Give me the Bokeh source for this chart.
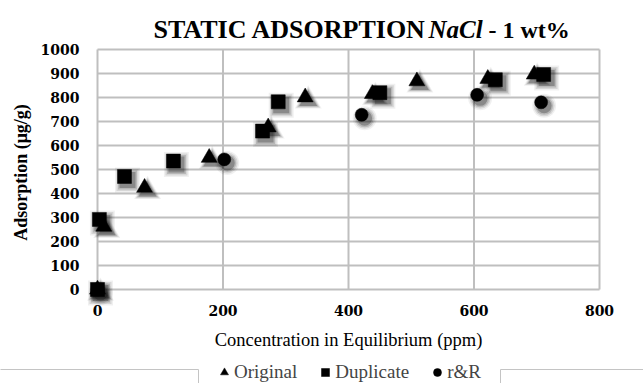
import math
from bokeh.plotting import figure
from bokeh.models import Range1d, Legend, LegendItem
from bokeh.core.properties import value
from bokeh.embed import file_html
from bokeh.resources import INLINE

# ---- data ----
orig_x = [0, 10, 75, 178, 272, 331, 438, 509, 622, 696]
orig_y = [0, 262, 424, 549, 676, 801, 815, 868, 878, 896]
dup_x = [0, 3, 43, 121, 263, 288, 450, 634, 711]
dup_y = [0, 292, 471, 535, 660, 782, 820, 874, 896]
rr_x = [0, 202, 421, 605, 707]
rr_y = [0, 542, 728, 811, 780]
x_ticks = [0, 200, 400, 600, 800]
y_ticks = [0, 100, 200, 300, 400, 500, 600, 700, 800, 900, 1000]
series_names = ["Original", "Duplicate", "r&R"]
x_title = "Concentration in Equilibrium (ppm)"
y_title = "Adsorption (μg/g)"
title_parts = ["STATIC ADSORPTION", "NaCl", "- 1 wt%"]

GRID = "#BFBFBF"
W, H = 643, 383
# plot area in canvas pixels: data x 0..800 -> 97..599, data y 0..1000 -> 289..49 (from top)
left_px, right_px, top_px, bottom_px = 97, 599, 49, 289
xs_per_px = (x_ticks[-1] - x_ticks[0]) / (right_px - left_px)
ys_per_px = (y_ticks[-1] - y_ticks[0]) / (bottom_px - top_px)
x_range = Range1d(x_ticks[0] - left_px * xs_per_px, x_ticks[-1] + (W - right_px) * xs_per_px)
y_range = Range1d(y_ticks[0] - (H - bottom_px) * ys_per_px, y_ticks[-1] + top_px * ys_per_px)

def px_x(px):
    return x_range.start + px * xs_per_px

def px_y(py):
    return y_range.end - py * ys_per_px

p = figure(width=W, height=H, output_backend="svg", toolbar_location=None,
           x_range=x_range, y_range=y_range, min_border=0,
           x_axis_location=None, y_axis_location=None)
p.grid.visible = False
p.outline_line_color = None
p.background_fill_color = "white"
p.border_fill_color = "white"

# grid lines from the tick arrays
p.segment(x0=x_ticks, y0=[y_ticks[0]] * len(x_ticks), x1=x_ticks,
          y1=[y_ticks[-1]] * len(x_ticks), line_color=GRID, line_width=2)
p.segment(x0=[x_ticks[0]] * len(y_ticks), y0=y_ticks,
          x1=[x_ticks[-1]] * len(y_ticks), y1=y_ticks, line_color=GRID, line_width=2)

# tick labels
p.text(x=x_ticks, y=[y_ticks[0]] * len(x_ticks), text=[str(t) for t in x_ticks],
       y_offset=21, text_align="center", text_baseline="middle",
       text_font=value("DejaVu Serif"), text_font_style="bold",
       text_font_size="14px", text_color="black")
p.text(x=[x_ticks[0]] * len(y_ticks), y=y_ticks, text=[str(t) for t in y_ticks],
       x_offset=-18, text_align="right", text_baseline="middle",
       text_font=value("DejaVu Serif"), text_font_style="bold",
       text_font_size="14px", text_color="black")

# axis titles
p.text(x=[(x_ticks[0] + x_ticks[-1]) / 2], y=[y_ticks[0]], text=[x_title],
       y_offset=50, text_align="center", text_baseline="middle",
       text_font=value("Liberation Serif"), text_font_size="18.5px", text_color="black")
p.text(x=[x_ticks[0]], y=[(y_ticks[0] + y_ticks[-1]) / 2], text=[y_title],
       x_offset=-77, y_offset=3, angle=math.pi / 2, text_align="center",
       text_baseline="middle", text_font=value("Liberation Serif"),
       text_font_style="bold", text_font_size="18px", text_color="black")

# chart title in three styled pieces
for txt, style, off, size in [(title_parts[0], "bold", 56, "26px"),
                              (title_parts[1], "bold italic", 331, "25px"),
                              (title_parts[2], "bold", 391, "24px")]:
    p.text(x=[x_ticks[0]], y=[y_ticks[-1]], text=[txt], x_offset=off, y_offset=-20,
           text_align="left", text_baseline="alphabetic",
           text_font=value("Liberation Serif"), text_font_style=style,
           text_font_size=size, text_color="black")

# faint frame lines flanking the legend (decoration of the original)
p.multi_line(xs=[[px_x(-5), px_x(198), px_x(198)], [px_x(500), px_x(500), px_x(650)]],
             ys=[[px_y(369), px_y(369), px_y(390)], [px_y(390), px_y(369), px_y(369)]],
             line_color="#C4C4C4", line_width=1)

# markers with soft shadow
dx, dy = 3.0 * xs_per_px, -3.5 * ys_per_px
def series(xs, ys, marker, size):
    sx = [x + dx for x in xs]
    sy = [y + dy for y in ys]
    for grow, alpha in [(11, 0.06), (8, 0.10), (5, 0.15), (2, 0.25)]:
        p.scatter(sx, sy, marker=marker, size=size + grow, fill_color="black",
                  fill_alpha=alpha, line_color=None)
    return p.scatter(xs, ys, marker=marker, size=size, fill_color="black",
                     line_color="black", line_width=0.5)

r_orig = series(orig_x, orig_y, "triangle", 16)
r_dup = series(dup_x, dup_y, "square", 14)
r_rr = series(rr_x, rr_y, "circle", 13)

legend = Legend(items=[LegendItem(label=series_names[0], renderers=[r_orig]),
                       LegendItem(label=series_names[1], renderers=[r_dup]),
                       LegendItem(label=series_names[2], renderers=[r_rr])],
                orientation="horizontal", location=(214, 0))
legend.label_text_font = "Liberation Serif"
legend.label_text_font_size = "19px"
legend.glyph_width = 20
legend.glyph_height = 20
legend.label_standoff = 0
legend.spacing = 18
legend.padding = 0
legend.margin = 0
legend.border_line_color = None
legend.background_fill_alpha = 0
p.add_layout(legend)

open("out.html", "w").write(file_html(p, INLINE))
